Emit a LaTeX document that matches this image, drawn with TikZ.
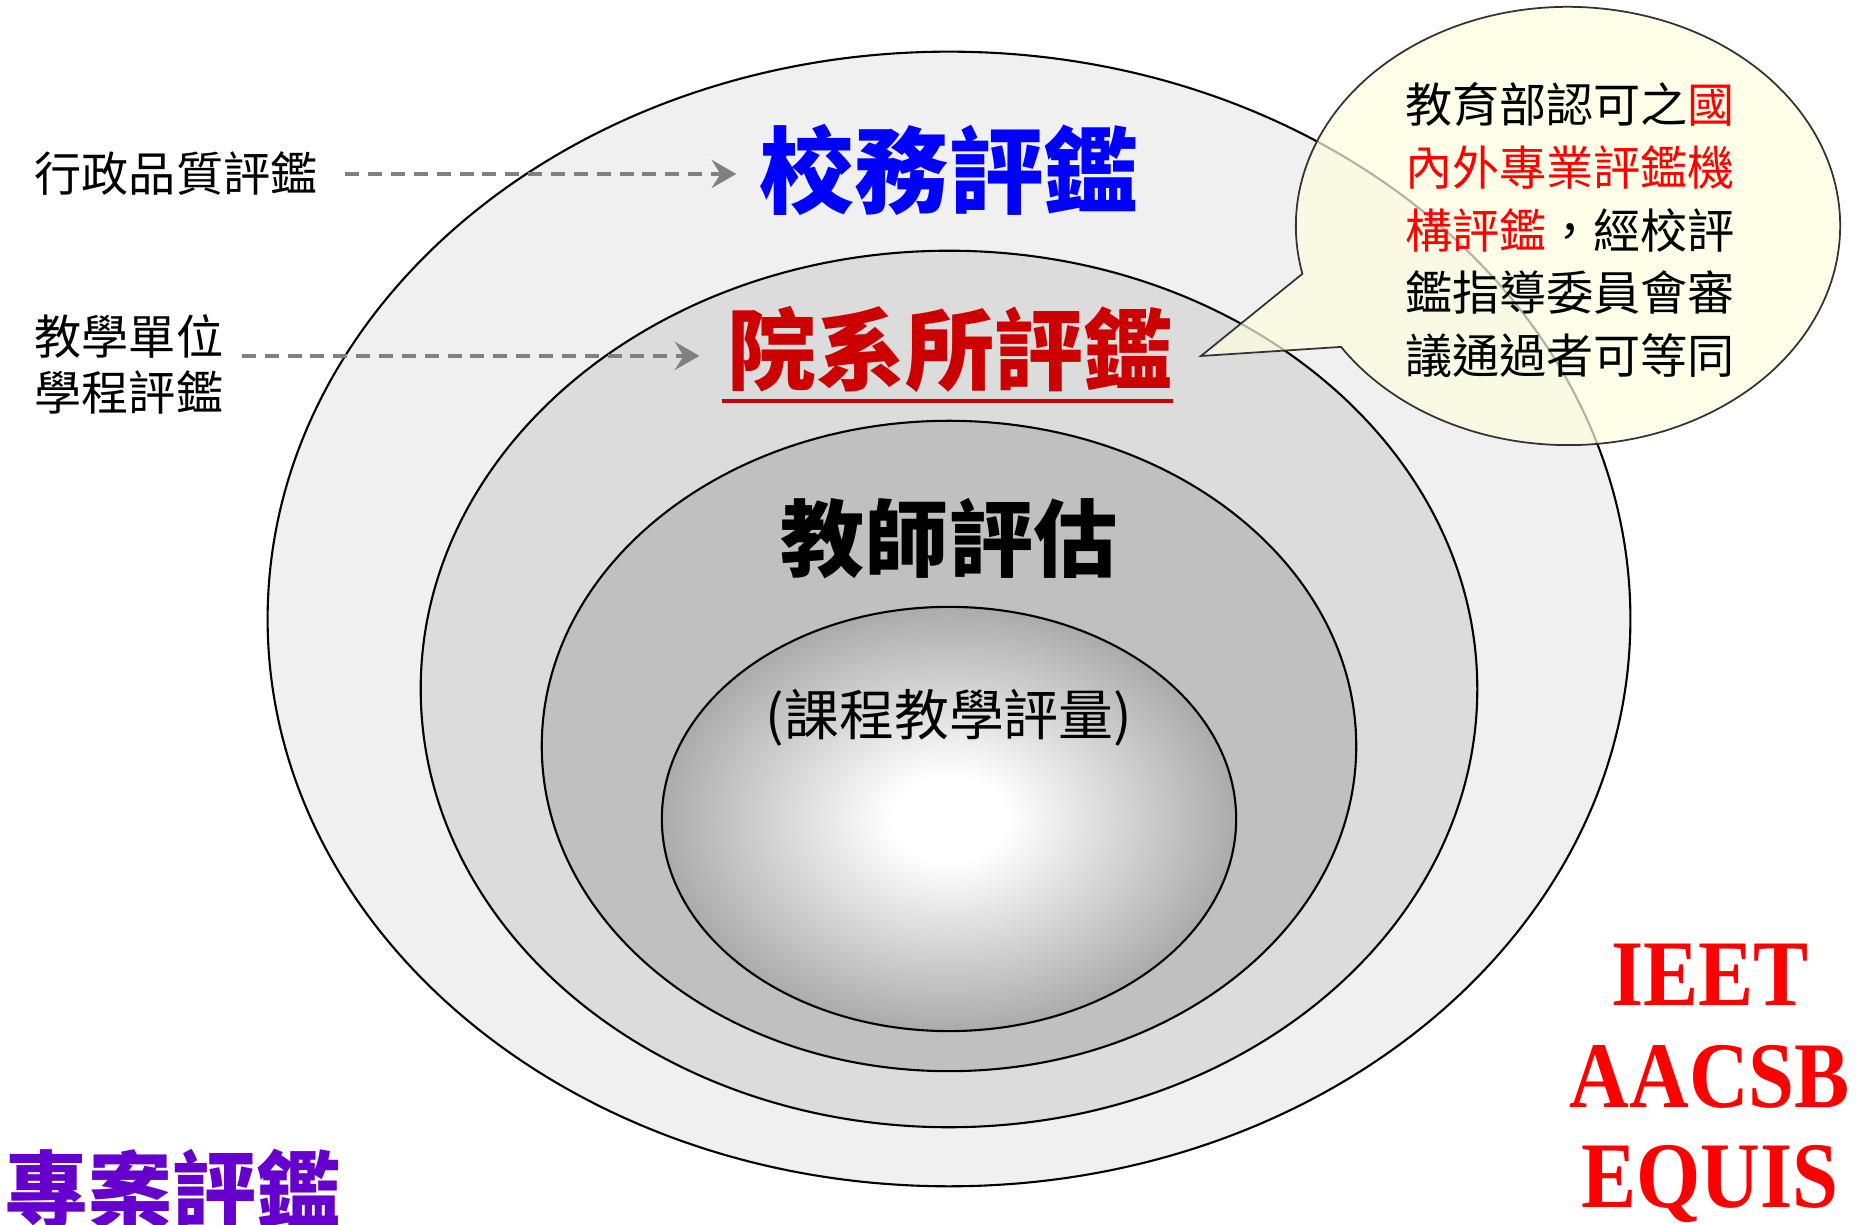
\documentclass[tikz,border=0pt]{standalone}
\usepackage{fontspec}
\usepackage{tikz}
\usetikzlibrary{arrows.meta}
\newfontfamily\cjk{Noto Sans CJK TC}
\newfontfamily\ieetfont[FakeStretch=0.88]{Liberation Serif}
\definecolor{ringone}{HTML}{F0F0F0}
\definecolor{ringtwo}{HTML}{DCDCDC}
\definecolor{ringthree}{HTML}{C0C0C0}
\definecolor{ringcore}{HTML}{ABABAB}
\definecolor{schoolblue}{HTML}{0000FF}
\definecolor{deptred}{HTML}{CC0000}
\definecolor{projpurple}{HTML}{6600CC}
\definecolor{notered}{HTML}{FF0000}
\definecolor{balloonfill}{HTML}{FFFFE0}
\pgfdeclareradialshading{coreglow}{\pgfpoint{0bp}{0bp}}{color(0bp)=(white); color(5bp)=(white); color(25bp)=(ringcore); color(50bp)=(ringcore)}
\tikzset{
x=0.01cm, y=0.01cm, % one unit is one pixel of the drawing
ring/.style={draw=black, line width=0.6pt}, % the nested ellipses
heading/.style={font=\cjk\bfseries\fontsize{#1}{#1}\selectfont, inner sep=0pt}, % big bold titles
sidetext/.style={font=\cjk\fontsize{13.4pt}{15.9pt}\selectfont, inner sep=0pt, anchor=west}, % labels on the left
flow/.style={draw=gray, line width=1.1pt, dash pattern=on 4pt off 2.5pt, -{Stealth[length=7pt, width=8pt, inset=2.5pt]}}, % grey dashed arrows
balloon/.style={draw=black!80, line width=0.5pt, fill=balloonfill, fill opacity=0.7}, % speech bubble
balloontext/.style={font=\cjk\fontsize{13.4pt}{17.9pt}\selectfont, align=left, inner sep=0pt}, % text in the bubble
accred/.style={font=\ieetfont\bfseries\fontsize{26.7pt}{26.7pt}\selectfont, text=notered, anchor=base, inner sep=0pt}, % IEET, AACSB, EQUIS
}

\begin{document}
\begin{tikzpicture}
\useasboundingbox (0,0) rectangle (1860,1225);
\fill[white] (0,0) rectangle (1860,1225);

% nested rings
\draw[ring, fill=ringone] (949,606) ellipse [x radius=6.81cm, y radius=5.67cm];
\draw[ring, fill=ringtwo] (949,536) ellipse [x radius=5.28cm, y radius=4.38cm];
\draw[ring, fill=ringthree] (949,479) ellipse [x radius=4.07cm, y radius=3.25cm];
\shadedraw[ring, shading=coreglow] (949,406) ellipse [x radius=2.87cm, y radius=2.12cm];

% titles inside the rings
\node[heading=26.9pt, text=schoolblue] (school) at (949,1055) {校務評鑑};
\node[heading=25.3pt, text=deptred] (dept) at (950,875) {院系所評鑑};
\node[heading=23.9pt] (teacher) at (949,686) {教師評估};
\node[font=\cjk\fontsize{15.6pt}{15.6pt}\selectfont, inner sep=0pt] (course) at (949,507) {(課程教學評量)};
\draw[deptred, line width=1.1pt] ([xshift=-1.5pt, yshift=-2pt]dept.south west) -- ([yshift=-2pt]dept.south east);

% labels on the left
\node[sidetext] (admin) at (34,1051) {行政品質評鑑};
\node[sidetext, align=left] (unit) at (34,861) {教學單位\\學程評鑑};
\draw[flow, shorten <=7.7pt, shorten >=6.5pt] (admin.east) -- (admin.east -| school.west);
\draw[flow, shorten <=5.1pt, shorten >=7.8pt] ([yshift=2.3pt]unit.east) -- ([yshift=2.3pt]unit.east -| dept.west);

% speech bubble
\coordinate (tip) at (1201,869);
\draw[balloon] (1568,999) ++(213.5:2.72cm and 2.19cm) arc[start angle=213.5, end angle=552.6, x radius=2.72cm, y radius=2.19cm] -- (tip) -- cycle;
\node[balloontext] (note) at (1570,995) {教育部認可之\textcolor{notered}{國}\\
\textcolor{notered}{內外專業評鑑機}\\
\textcolor{notered}{構評鑑}，經校評\\
鑑指導委員會審\\
議通過者可等同};

% corners
\node[heading=23.9pt, text=projpurple, anchor=west] (project) at (4,35) {專案評鑑};
\node[accred] (ieet) at (1710,219) {IEET};
\node[accred] (aacsb) at (1710,117) {AACSB};
\node[accred] (equis) at (1710,17) {EQUIS};
\end{tikzpicture}
\end{document}
